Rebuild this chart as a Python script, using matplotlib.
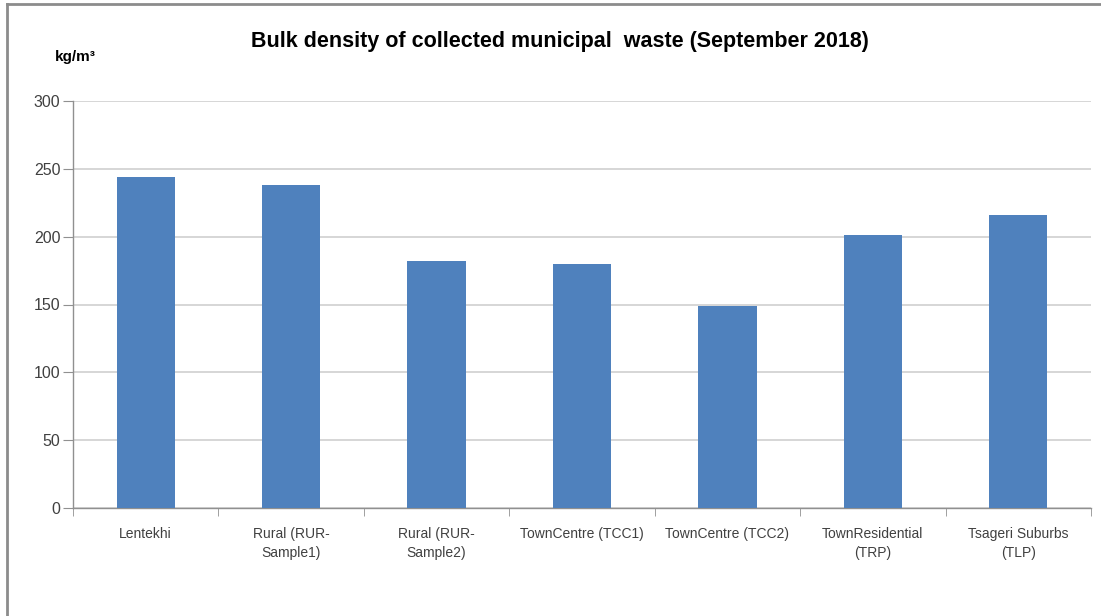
import matplotlib.pyplot as plt
from matplotlib.lines import Line2D
import numpy as np

# --- chart data ---
sites = [
    "Lentekhi",
    "Rural (RUR-\nSample1)",
    "Rural (RUR-\nSample2)",
    "TownCentre (TCC1)",
    "TownCentre (TCC2)",
    "TownResidential\n(TRP)",
    "Tsageri Suburbs\n(TLP)",
]
bulk_density = [244, 238, 182, 180, 149, 201, 216]
y_ticks = [0, 50, 100, 150, 200, 250, 300]

BAR_COLOR = '#4f81bd'
TEXT_COLOR = '#404040'
plt.rcParams['font.family'] = ['Liberation Sans Narrow', 'Liberation Sans', 'DejaVu Sans']

fig = plt.figure(figsize=(11.01, 6.16), dpi=100)
fig.patch.set_facecolor('white')
ax = fig.add_axes([73 / 1101, 1 - 508 / 616, (1091 - 73) / 1101, (508 - 101) / 616])

x = np.arange(len(sites))
ax.bar(x, bulk_density, width=0.4, color=BAR_COLOR, zorder=3)

ax.set_xlim(-0.5, len(sites) - 0.5)
ax.set_ylim(0, 300)
ax.set_yticks(y_ticks)
ax.set_yticklabels([str(v) for v in y_ticks], fontsize=11.5, color=TEXT_COLOR)
ax.yaxis.grid(True, color='#d0d0d0', linewidth=1.2, zorder=0)

# category labels in the middle, tick marks on the boundaries
ax.set_xticks(x)
ax.set_xticklabels(sites, fontsize=10, color=TEXT_COLOR, linespacing=1.45)
ax.tick_params(axis='x', length=0, pad=14)
ax.set_xticks(np.arange(-0.5, len(sites)), minor=True)
ax.tick_params(axis='x', which='minor', length=6, color='#909090')
ax.tick_params(axis='y', length=7, color='#909090', pad=2)

for side in ['top', 'right']:
    ax.spines[side].set_visible(False)
for side in ['left', 'bottom']:
    ax.spines[side].set_color('#909090')
    ax.spines[side].set_linewidth(1.0)

fig.text(560 / 1101, 1 - 41 / 616, 'Bulk density of collected municipal  waste (September 2018)',
         ha='center', va='center', fontsize=15.5, fontweight='bold', color='black')
fig.text(55 / 1101, 1 - 57 / 616, 'kg/m³', ha='left', va='center',
         fontsize=11, fontweight='bold', color='black')

# outer chart frame (left and top edges)
fig.add_artist(Line2D([7 / 1101, 7 / 1101], [0, 1 - 4 / 616], transform=fig.transFigure,
                      color='#8c8c8c', linewidth=2))
fig.add_artist(Line2D([7 / 1101, 1], [1 - 4 / 616, 1 - 4 / 616], transform=fig.transFigure,
                      color='#8c8c8c', linewidth=2))

fig.savefig('out.png', dpi=100)
